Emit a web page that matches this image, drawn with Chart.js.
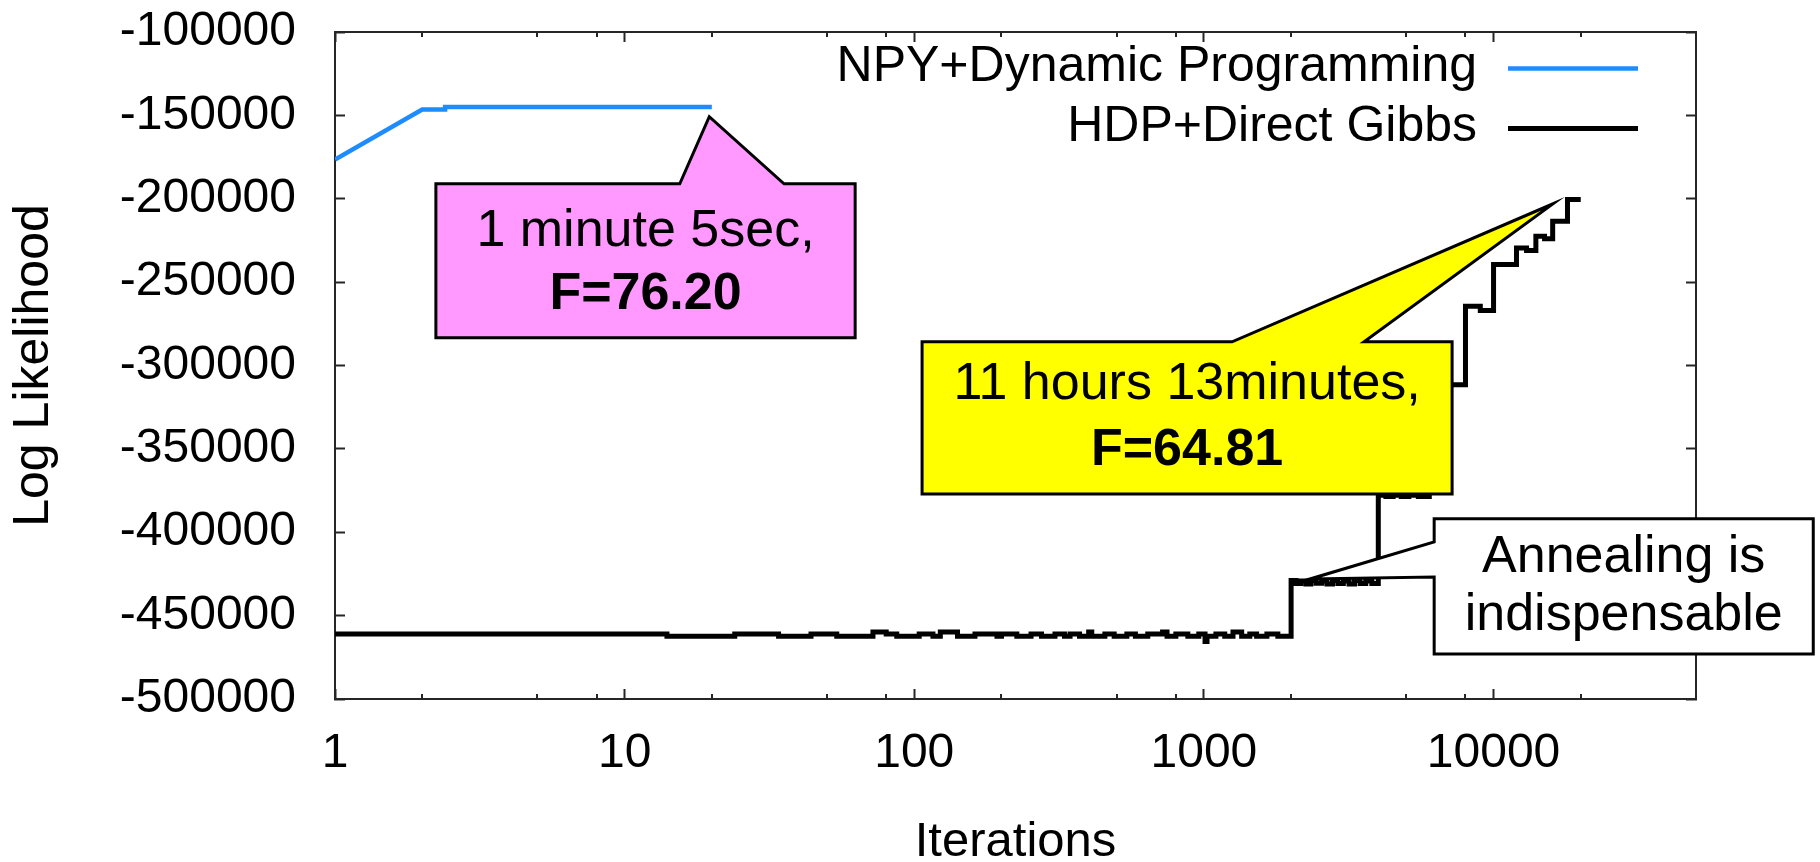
<!DOCTYPE html>
<html>
<head>
<meta charset="utf-8">
<title>Log Likelihood vs Iterations</title>
<script src="https://cdn.jsdelivr.net/npm/chart.js@4.4.1/dist/chart.umd.min.js"></script>
<style>
  html, body { margin: 0; padding: 0; background: #fff; }
  #wrap { width: 1820px; height: 862px; }
</style>
</head>
<body>
<div id="wrap"><canvas id="llChart" width="1820" height="862"></canvas></div>
<script>
// NPY + Dynamic Programming (blue line)
const npyIter = [1, 2, 2.4, 2.4, 20];
const npyLL = [-176500, -146500, -146500, -145000, -145000];

// HDP + Direct Gibbs (black step line), each value holds until the next iteration
const hdpIter = [
  1, 14, 24, 34, 44, 54, 72, 80, 87, 104,
  116, 123, 141, 162, 193, 200, 226, 253, 275, 306,
  330, 345, 372, 400, 410, 455, 490, 542, 580, 640,
  720, 746, 800, 880, 960, 1009, 1025, 1100, 1180, 1260,
  1350, 1440, 1520, 1650, 1800,
  2000, 2080, 2160, 2250, 2340, 2440, 2550, 2660, 2780, 2900, 3030, 3170, 3310, 3460, 3620, 3800,
  4000, 4250, 4500, 4800, 5100, 5500,
  6000, 7000, 8000, 9000, 10000, 12000, 13000, 14000, 15000, 16000, 18000, 20000
];
const hdpLL = [
  -461000, -462300, -461000, -462300, -461000, -462300, -459800, -461000, -462300, -461000,
  -462300, -459800, -462300, -461000, -462300, -461000, -462300, -461000, -462300, -461000,
  -462300, -461000, -462300, -459800, -462300, -461000, -462300, -461000, -462300, -461000,
  -459800, -462300, -461000, -462300, -461000, -465500, -462300, -461000, -462300, -459800,
  -462300, -461000, -462300, -461000, -462300,
  -429000, -430800, -429200, -431000, -429000, -430600, -429200, -431000, -429000, -430800, -429200, -431000, -429000, -430800, -429200, -430800,
  -377800, -378600, -377800, -378600, -377800, -378600,
  -310000, -311500, -264500, -267000, -239500, -229500, -231000, -222500, -224000, -213500, -200500, -200500
];

const seriesLabels = ['NPY+Dynamic Programming', 'HDP+Direct Gibbs'];
const xMajorTicks = [1, 10, 100, 1000, 10000];
const xMinorTicks = [2, 5, 8, 20, 50, 80, 200, 500, 800, 2000, 5000, 8000, 20000];

// callout boxes, placed in data units (iterations, log likelihood)
const callouts = [
  { lines: ['1 minute 5sec,', 'F=76.20'], bold: [false, true], fill: '#ff99ff',
    box: [2.23, 62.5, -191000, -283300], side: 'top', base: [15.5, 35.5], tip: [19.6, -150800], lineY: [47.5, 110.5] },
  { lines: ['11 hours 13minutes,', 'F=64.81'], bold: [false, true], fill: '#ffff00',
    box: [106.4, 7193, -285800, -377000], side: 'top', base: [1251, 3573], tip: [16060, -203000], lineY: [43, 108.5] },
  { lines: ['Annealing is', 'indispensable'], bold: [false, false], fill: '#ffffff',
    box: [6237, 127000, -391900, -473000], side: 'left', base: [-405800, -426800], tip: [2327, -428000], lineY: [39, 97] }
];

const FONT = "'Liberation Sans', Arial, Helvetica, sans-serif";
const AXIS = '#262626';
const BLUE = '#1e8cff';

Chart.defaults.font.family = FONT;
Chart.defaults.color = '#000';

const gridOpts = { drawOnChartArea: false, tickLength: -10, tickColor: AXIS, tickWidth: 2 };
const borderOpts = { color: AXIS, width: 2 };
const decadeTicks = s => { s.ticks = xMajorTicks.map(v => ({ value: v })); };

const extras = {
  id: 'extras',
  afterDatasetsDraw(chart) {
    const { ctx, chartArea: a, scales: { x, y } } = chart;
    ctx.save();

    // minor ticks on bottom and top
    ctx.strokeStyle = AXIS;
    ctx.lineWidth = 2;
    xMinorTicks.forEach(v => {
      const px = Math.round(x.getPixelForValue(v));
      ctx.beginPath();
      ctx.moveTo(px, a.bottom);
      ctx.lineTo(px, a.bottom - 5);
      ctx.moveTo(px, a.top);
      ctx.lineTo(px, a.top + 5);
      ctx.stroke();
    });

    // legend, gnuplot style: text right aligned, sample line on the right
    ctx.font = '50px ' + FONT;
    ctx.textAlign = 'right';
    ctx.textBaseline = 'middle';
    chart.data.datasets.forEach((ds, i) => {
      const ly = a.top + 35 + i * 60;
      ctx.fillStyle = '#000';
      ctx.fillText(ds.label, a.right - 219, ly);
      ctx.strokeStyle = ds.borderColor;
      ctx.lineWidth = ds.borderWidth;
      ctx.beginPath();
      ctx.moveTo(a.right - 188, ly + 1.5);
      ctx.lineTo(a.right - 58, ly + 1.5);
      ctx.stroke();
    });

    // callouts
    callouts.forEach(c => {
      const L = x.getPixelForValue(c.box[0]), R = x.getPixelForValue(c.box[1]);
      const T = y.getPixelForValue(c.box[2]), B = y.getPixelForValue(c.box[3]);
      const tx = x.getPixelForValue(c.tip[0]), ty = y.getPixelForValue(c.tip[1]);
      ctx.beginPath();
      if (c.side === 'top') {
        ctx.moveTo(L, T);
        ctx.lineTo(x.getPixelForValue(c.base[0]), T);
        ctx.lineTo(tx, ty);
        ctx.lineTo(x.getPixelForValue(c.base[1]), T);
        ctx.lineTo(R, T);
        ctx.lineTo(R, B);
        ctx.lineTo(L, B);
      } else {
        ctx.moveTo(L, T);
        ctx.lineTo(R, T);
        ctx.lineTo(R, B);
        ctx.lineTo(L, B);
        ctx.lineTo(L, y.getPixelForValue(c.base[1]));
        ctx.lineTo(tx, ty);
        ctx.lineTo(L, y.getPixelForValue(c.base[0]));
      }
      ctx.closePath();
      ctx.fillStyle = c.fill;
      ctx.fill();
      ctx.lineWidth = 3;
      ctx.lineJoin = 'miter';
      ctx.strokeStyle = '#000';
      ctx.stroke();

      ctx.fillStyle = '#000';
      ctx.textAlign = 'center';
      ctx.textBaseline = 'middle';
      c.lines.forEach((t, k) => {
        ctx.font = (c.bold[k] ? 'bold ' : '') + '52px ' + FONT;
        ctx.fillText(t, (L + R) / 2, T + c.lineY[k]);
      });
    });

    ctx.restore();
  }
};

new Chart(document.getElementById('llChart'), {
  type: 'line',
  data: {
    datasets: [
      {
        label: seriesLabels[0],
        data: npyIter.map((v, i) => ({ x: v, y: npyLL[i] })),
        borderColor: BLUE,
        borderWidth: 4.5,
        pointRadius: 0,
        tension: 0
      },
      {
        label: seriesLabels[1],
        data: hdpIter.map((v, i) => ({ x: v, y: hdpLL[i] })),
        borderColor: '#000',
        borderWidth: 5,
        pointRadius: 0,
        stepped: true
      }
    ]
  },
  options: {
    responsive: false,
    animation: false,
    events: [],
    layout: { padding: { left: 0, right: 124, top: 32, bottom: 0 } },
    plugins: { legend: { display: false }, tooltip: { enabled: false } },
    scales: {
      x: {
        type: 'logarithmic', position: 'bottom', min: 1, max: 50000,
        afterBuildTicks: decadeTicks,
        afterFit: s => { s.height = 163; s.paddingLeft = 0; s.paddingRight = 0; },
        ticks: { autoSkip: false, maxRotation: 0, padding: 36, color: '#000', font: { size: 48 }, callback: v => String(v) },
        grid: gridOpts,
        border: borderOpts,
        title: { display: true, text: 'Iterations', color: '#000', font: { size: 49, lineHeight: 0.8 }, padding: 0 }
      },
      xTop: {
        type: 'logarithmic', position: 'top', min: 1, max: 50000,
        afterBuildTicks: decadeTicks,
        afterFit: s => { s.height = 0; s.paddingLeft = 0; s.paddingRight = 0; },
        ticks: { display: false },
        grid: gridOpts,
        border: borderOpts
      },
      y: {
        type: 'linear', position: 'left', min: -500000, max: -100000,
        afterFit: s => { s.width = 335; s.paddingTop = 0; s.paddingBottom = 0; },
        ticks: { stepSize: 50000, padding: 49, color: '#000', font: { size: 48 }, callback: v => String(v) },
        grid: gridOpts,
        border: borderOpts,
        title: { display: true, text: 'Log Likelihood', color: '#000', font: { size: 50 }, padding: { top: 4, bottom: 0 } }
      },
      yRight: {
        type: 'linear', position: 'right', min: -500000, max: -100000,
        afterFit: s => { s.width = 0; s.paddingTop = 0; s.paddingBottom = 0; },
        ticks: { stepSize: 50000, display: false },
        grid: gridOpts,
        border: borderOpts
      }
    }
  },
  plugins: [extras]
});
</script>
</body>
</html>
